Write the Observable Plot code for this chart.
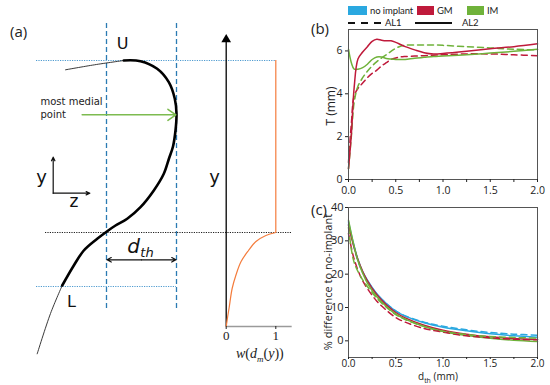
<!DOCTYPE html>
<html><head><meta charset="utf-8">
<script src="https://cdn.jsdelivr.net/npm/d3@7"></script>
<script src="https://cdn.jsdelivr.net/npm/@observablehq/plot@0.6"></script>
<style>
body{margin:0;background:#fff;}
#fig{position:relative;width:550px;height:385px;overflow:hidden;font-family:"Open Sans",sans-serif;color:#222;}
#fig > *{position:absolute;}
.plab{font-size:15px;line-height:15px;}
.lg{font-family:Lato,sans-serif;font-size:9.5px;line-height:10px;white-space:nowrap;letter-spacing:-0.1px;}
.rot{white-space:nowrap;transform:translate(-50%,-50%) rotate(-90deg);line-height:1;}
</style></head><body><div id="fig"></div>
<script>
// ================= DATA =================
const implants = ["no implant", "GM", "IM"];
const implantColors = ["#2aa8e0", "#bf1a3b", "#6fb23a"];
const layers = ["AL1", "AL2"];

// (b) thickness T (mm) vs d_th (mm)
const bX      = [0, 0.03, 0.06, 0.1, 0.15, 0.2, 0.25, 0.3, 0.35, 0.4, 0.45, 0.5, 0.55, 0.6, 0.7, 0.8, 0.9, 1.0, 1.25, 1.5, 1.75, 2.0];
const bGM_AL2 = [0.5, 2.1, 4.3, 5.62, 5.95, 6.2, 6.45, 6.55, 6.5, 6.47, 6.47, 6.4, 6.3, 6.2, 6.05, 5.92, 5.86, 5.88, 5.98, 6.1, 6.2, 6.33];
const bGM_AL1 = [0.8, 2.6, 3.9, 4.25, 4.5, 4.75, 4.95, 5.1, 5.3, 5.45, 5.6, 5.67, 5.72, 5.74, 5.76, 5.78, 5.8, 5.82, 5.86, 5.86, 5.82, 5.78];
const bIM_AL2 = [6.08, 5.45, 5.15, 5.15, 5.22, 5.38, 5.6, 5.72, 5.72, 5.65, 5.62, 5.6, 5.6, 5.6, 5.66, 5.7, 5.74, 5.76, 5.82, 5.9, 5.98, 6.08];
const bIM_AL1 = [0.5, 2.0, 3.6, 4.35, 4.75, 5.05, 5.3, 5.5, 5.67, 5.82, 5.98, 6.12, 6.22, 6.27, 6.28, 6.28, 6.28, 6.26, 6.2, 6.14, 6.08, 6.05];

// (c) % difference to no-implant vs d_th (mm)
const cX       = [0, 0.05, 0.1, 0.15, 0.2, 0.3, 0.4, 0.5, 0.6, 0.8, 1.0, 1.25, 1.5, 1.75, 2.0];
const cNO_AL2  = [35.7, 29.5, 24.4, 20.8, 18.2, 14.1, 11.2, 8.9, 7.4, 5.4, 4.1, 3.0, 2.1, 1.5, 1.1];
const cNO_AL1  = [35.0, 29.0, 24.0, 20.5, 18.0, 14.0, 11.2, 9.0, 7.5, 5.6, 4.4, 3.3, 2.5, 2.0, 1.7];
const cGM_AL2  = [34.7, 29.0, 24.3, 20.8, 18.0, 13.8, 10.8, 8.5, 6.9, 4.7, 3.2, 2.0, 1.2, 0.7, 0.4];
const cGM_AL1  = [32.2, 25.5, 21.2, 18.0, 15.7, 11.9, 9.2, 7.0, 5.6, 3.7, 2.6, 1.5, 0.9, 0.5, 0.3];
const cIM_AL2  = [36.2, 29.5, 24.0, 20.3, 17.3, 13.2, 10.3, 8.0, 6.5, 4.3, 2.8, 1.6, 0.8, 0.2, -0.2];
const cIM_AL1  = [34.0, 24.5, 20.8, 18.3, 16.3, 12.8, 10.1, 7.9, 6.4, 4.3, 2.9, 1.9, 1.3, 1.0, 0.8];

const xTicks = [0, 0.25, 0.5, 0.75, 1, 1.25, 1.5, 1.75, 2];
const bYTicks = [0, 2, 4, 6];
const cYTicks = [0, 10, 20, 30, 40];

// (a) schematic contour (z, y in sketch units)
const contourZ = [123.3, 140, 156.7, 168.3, 174.3, 176, 175, 172.5, 168.5, 163.3, 153.3, 140, 126.7, 115, 106.7, 96.7, 83.3, 73.3, 61.7];
const contourY = [60, 60.7, 68.3, 81.7, 98.3, 113.3, 130, 146, 158, 173.3, 190, 206.7, 218.3, 225, 230.7, 238.3, 250, 265, 285];
const upperZ = [65, 94, 123.3];
const upperY = [69.3, 64.3, 60];
const lowerZ = [61.7, 50, 36.7];
const lowerY = [285, 313, 353.3];
const dthZ = [106, 176];
const levelU = 60, levelMid = 232, levelL = 286, levelW0 = 326;
// weight function w(d_m(y))
const weightW = [0, 0.03, 0.06, 0.12, 0.2, 0.3, 0.45, 0.6, 0.8, 1];
const weightY = [326, 316, 307, 288, 274, 261, 250, 241, 235, 232];

// ================= BUILD =================
const fig = document.getElementById("fig");
function place(el, left, top) { el.style.left = left + "px"; el.style.top = top + "px"; fig.appendChild(el); return el; }
function div(html, cls, left, top, extra) { const d = document.createElement("div"); d.className = cls || ""; d.innerHTML = html; if (extra) d.style.cssText += extra; return place(d, left, top); }

const sans = "DejaVu Sans";
const contour = contourZ.map((z, i) => ({z, y: contourY[i]}));
const upper = upperZ.map((z, i) => ({z, y: upperY[i]}));
const lower = lowerZ.map((z, i) => ({z, y: lowerY[i]}));

const schem = Plot.plot({
  width: 300, height: 385, margin: 0,
  x: {domain: [0, 300], range: [0, 300], axis: null},
  y: {domain: [0, 385], range: [0, 385], axis: null},
  style: {background: "transparent", overflow: "visible"},
  marks: [
    Plot.ruleX(dthZ, {x: d => d, y1: 23, y2: 308, stroke: "#2b7bb3", strokeWidth: 1.3, strokeDasharray: "5,3"}),
    Plot.ruleY([levelU], {y: d => d, x1: 36, x2: 275, stroke: "#4f9bd0", strokeWidth: 1.2, strokeDasharray: "1.2,1.2"}),
    Plot.ruleY([levelMid], {y: d => d, x1: 45, x2: 291, stroke: "#222", strokeWidth: 1.2, strokeDasharray: "1.2,1.2"}),
    Plot.ruleY([levelL], {y: d => d, x1: 36, x2: 176, stroke: "#4f9bd0", strokeWidth: 1.2, strokeDasharray: "1.2,1.2"}),
    Plot.line(upper, {x: "z", y: "y", stroke: "#222", strokeWidth: 0.9, curve: "catmull-rom"}),
    Plot.line(lower, {x: "z", y: "y", stroke: "#222", strokeWidth: 0.9, curve: "catmull-rom"}),
    Plot.line(contour, {x: "z", y: "y", stroke: "#000", strokeWidth: 2.6, curve: "catmull-rom"}),
    Plot.arrow([0], {x1: 81.7, y1: 114.3, x2: 175.3, y2: 114.3, stroke: "#7dbb50", strokeWidth: 1.6, headLength: 9, headAngle: 70}),
    Plot.arrow([0], {x1: 52.7, y1: 192.7, x2: 52.7, y2: 156.7, stroke: "#111", strokeWidth: 1.2, headLength: 5, headAngle: 50}),
    Plot.arrow([0], {x1: 52.7, y1: 192.7, x2: 89.3, y2: 192.7, stroke: "#111", strokeWidth: 1.2, headLength: 5, headAngle: 50}),
    Plot.arrow([0], {x1: 141, y1: 259.3, x2: 106.5, y2: 259.3, stroke: "#111", strokeWidth: 1.2, headLength: 6, headAngle: 55}),
    Plot.arrow([0], {x1: 141, y1: 259.3, x2: 175.5, y2: 259.3, stroke: "#111", strokeWidth: 1.2, headLength: 6, headAngle: 55}),
    Plot.text(["U"], {x: 122, y: 43, fontSize: 16, fontFamily: sans, fill: "#111"}),
    Plot.text(["L"], {x: 71, y: 301, fontSize: 16, fontFamily: sans, fill: "#111"}),
    Plot.text(["most medial"], {x: 40, y: 101.5, fontSize: 10, fontFamily: sans, textAnchor: "start", fill: "#222"}),
    Plot.text(["point"], {x: 40, y: 114, fontSize: 10, fontFamily: sans, textAnchor: "start", fill: "#222"}),
    Plot.text(["y"], {x: 41, y: 177, fontSize: 18, fontFamily: sans, fill: "#111"}),
    Plot.text(["z"], {x: 73.5, y: 201, fontSize: 17, fontFamily: sans, fill: "#111"}),
    Plot.text(["d"], {x: 133, y: 246, fontSize: 20, fontFamily: sans, fontStyle: "italic", fill: "#111"}),
    Plot.text(["th"], {x: 146.5, y: 252, fontSize: 13, fontFamily: sans, fontStyle: "italic", fill: "#111"})
  ]
});
place(schem, 0, 0);

const weight = weightW.map((w, i) => ({w, y: weightY[i]}));
const wPlot = Plot.plot({
  width: 100, height: 385, marginTop: 0, marginLeft: 0, marginRight: 0, marginBottom: 59,
  x: {domain: [0, 1], range: [25.7, 75.3]},
  y: {domain: [0, 385], range: [0, 385], axis: null},
  style: {background: "transparent", overflow: "visible"},
  marks: [
    Plot.ruleY([levelW0], {y: d => d, x1: 0, x2: 1.33, stroke: "#9a9a9a", strokeWidth: 1.6}),
    Plot.ruleX([0], {x: d => d, y1: levelW0, y2: 40, stroke: "#000", strokeWidth: 1.3}),
    Plot.dot([0], {x: d => d, y: 39, symbol: "triangle", r: 3.6, fill: "#000", stroke: "none"}),
    Plot.line(weight, {x: "w", y: "y", stroke: "#f47c3c", strokeWidth: 1.2, curve: "catmull-rom"}),
    Plot.ruleX([1], {x: d => d, y1: levelMid, y2: levelU, stroke: "#f47c3c", strokeWidth: 1.2}),
    Plot.axisX({ticks: [0, 1], tickSize: 3, tickPadding: 1, label: null, fontFamily: "Liberation Serif", fontSize: 13, tickFormat: d => String(d)}),
    Plot.text(["y"], {x: -0.236, y: 177, fontSize: 18, fontFamily: sans, fill: "#111"})
  ]
});
place(wPlot, 200, 0);

div('<i>w</i>(<i>d</i><sub style="font-size:9px"><i>m</i></sub>(<i>y</i>))', "", 236, 347,
  "font-family:'Liberation Serif',serif;font-size:14px;line-height:14px;white-space:nowrap;");

// ---- line rows ----
function rows(xs, ys, implant, layer) { return xs.map((x, i) => ({x, v: ys[i], implant, layer})); }
const bRows = [
  ...rows(bX, bGM_AL1, "GM", "AL1"), ...rows(bX, bIM_AL1, "IM", "AL1"),
  ...rows(bX, bIM_AL2, "IM", "AL2"), ...rows(bX, bGM_AL2, "GM", "AL2")
];
const cRows = [
  ...rows(cX, cNO_AL2, "no implant", "AL2"), ...rows(cX, cNO_AL1, "no implant", "AL1"),
  ...rows(cX, cGM_AL2, "GM", "AL2"), ...rows(cX, cIM_AL2, "IM", "AL2"),
  ...rows(cX, cGM_AL1, "GM", "AL1"), ...rows(cX, cIM_AL1, "IM", "AL1")
];
const color = {domain: implants, range: implantColors};
const xfmt = d => (Math.abs(d * 2 - Math.round(d * 2)) < 1e-9 ? d.toFixed(1) : "");

function lineMarks(data) {
  const out = [];
  for (const r of [...new Set(data.map(d => d.implant + "|" + d.layer))]) {
    const [imp, lay] = r.split("|");
    out.push(Plot.line(data.filter(d => d.implant === imp && d.layer === lay), {
      x: "x", y: "v", stroke: "implant", strokeWidth: 1.5, curve: "catmull-rom",
      strokeDasharray: lay === "AL1" ? "6,4" : null
    }));
  }
  return out;
}

const bPlot = Plot.plot({
  width: 250, height: 200, marginLeft: 48, marginRight: 13, marginTop: 29, marginBottom: 21,
  x: {domain: [0, 2]}, y: {domain: [0, 7]}, color,
  style: {background: "transparent", fontFamily: "Open Sans", fontSize: "11px", color: "#222", overflow: "visible"},
  marks: [
    ...lineMarks(bRows),
    Plot.frame({stroke: "#555"}),
    Plot.axisX({ticks: xTicks, tickFormat: xfmt, tickSize: 3, tickPadding: 4, label: null, fontSize: 10.5}),
    Plot.axisY({ticks: bYTicks, tickFormat: d => String(d), tickSize: 3, tickPadding: 3, label: null, fontSize: 10.5})
  ]
});
place(bPlot, 300, 0);

const cPlot = Plot.plot({
  width: 250, height: 195, marginLeft: 48, marginRight: 13, marginTop: 17, marginBottom: 28,
  x: {domain: [0, 2]}, y: {domain: [-5, 40]}, color,
  style: {background: "transparent", fontFamily: "Open Sans", fontSize: "11px", color: "#222", overflow: "visible"},
  marks: [
    ...lineMarks(cRows),
    Plot.frame({stroke: "#555"}),
    Plot.axisX({ticks: xTicks, tickFormat: xfmt, tickSize: 2, tickPadding: 0, label: null, fontSize: 10}),
    Plot.axisY({ticks: cYTicks, tickFormat: d => String(d), tickSize: 3, tickPadding: 2, label: null})
  ]
});
place(cPlot, 300, 190);

// axis titles
div("T (mm)", "rot", 331, 106, "font-size:12px;");
div("% difference to no-implant", "rot", 327, 282, "font-size:11px;");
div('d<sub style="font-size:7px;line-height:0">th</sub> (mm)', "", 418, 371, "font-size:10px;line-height:10px;white-space:nowrap;");

// panel labels
div("(a)", "plab", 10, 24);
div("(b)", "plab", 311, 21);
div("(c)", "plab", 311, 202);

// legend
const swLeft = [348, 417, 467], txtLeft = [370, 437, 487];
implants.forEach((name, i) => {
  div("", "", swLeft[i], 6, `width:${i === 0 ? 19 : 17}px;height:9px;background:${implantColors[i]};`);
  div(name, "lg", txtLeft[i], 6);
});
const lineLeft = [348, 415], lineW = [34, 37], lTxt = [385, 462];
layers.forEach((name, i) => {
  div("", "", lineLeft[i], 22, `width:${lineW[i]}px;height:1.5px;background:${i === 0 ? "repeating-linear-gradient(to right,#111 0 7px,transparent 7px 13px)" : "#111"};`);
  div(name, "lg", lTxt[i], 18);
});
</script></body></html>
